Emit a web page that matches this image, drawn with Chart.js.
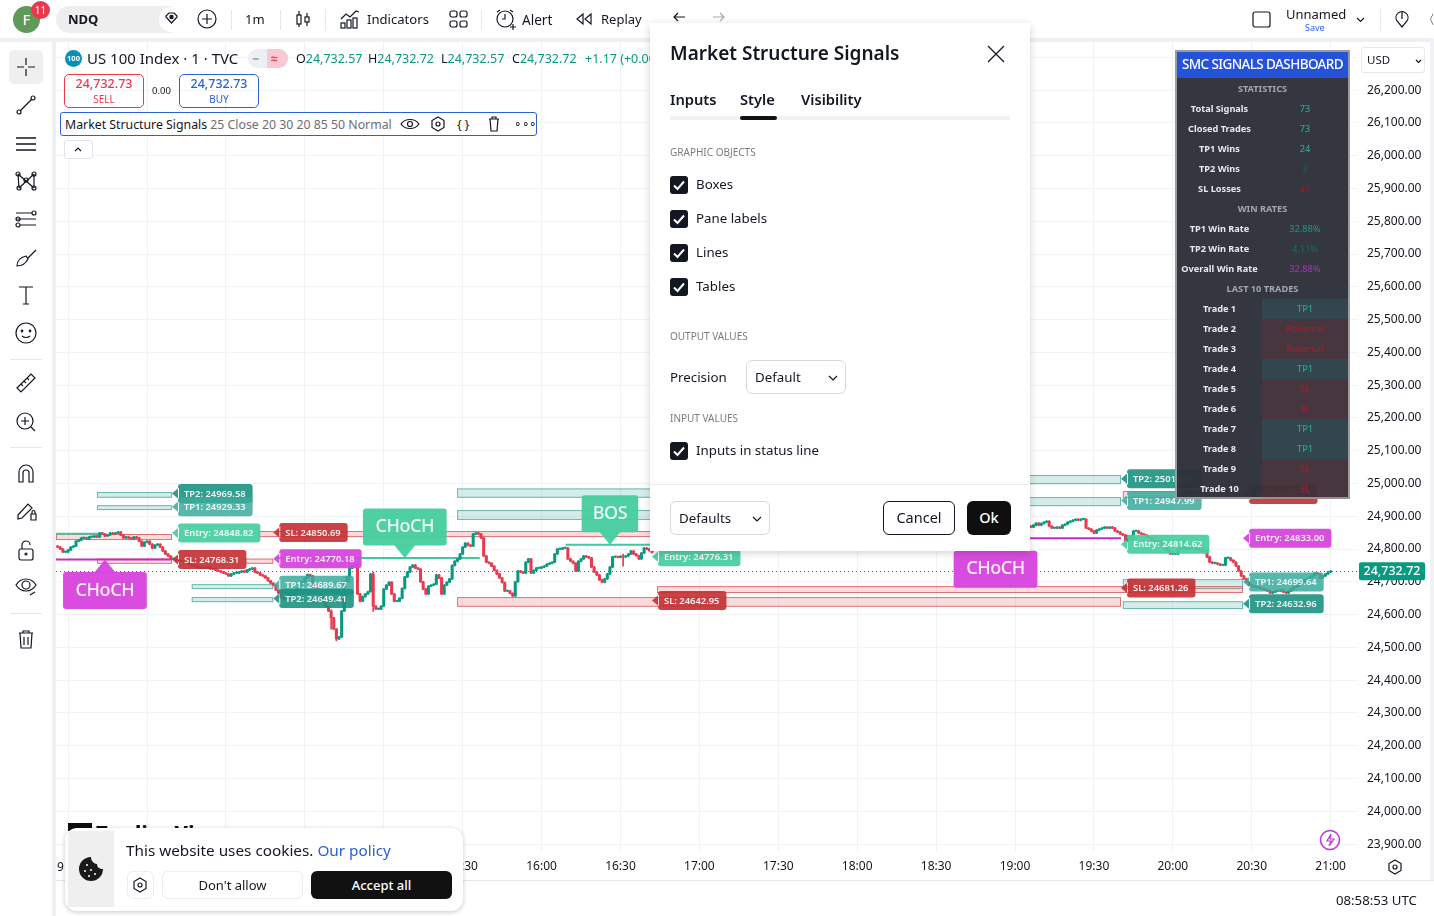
<!DOCTYPE html>
<html><head><meta charset="utf-8">
<script src="https://cdn.jsdelivr.net/npm/chart.js@4"></script>
<style>
html,body{margin:0;padding:0;background:#fff;width:1434px;height:916px;overflow:hidden;font-family:"Noto Sans",sans-serif;color:#131722}
#c{position:absolute;left:0;top:0;width:1434px;height:916px}
.a{position:absolute;white-space:nowrap}
.m{position:absolute;white-space:nowrap;transform:translateY(-50%)}
svg{position:absolute;overflow:visible;fill:none;stroke:#131722;stroke-width:1.2}
.ck{position:absolute;left:670px;width:18px;height:18px;background:#131722;border-radius:3px}
.ck svg{left:0;top:0;stroke:#fff;stroke-width:2}
.sel{position:absolute;border:1px solid #d8d8d8;border-radius:6px;background:#fff;box-sizing:border-box;height:34px}
#dash{position:absolute;left:1175px;top:50px;width:175px;height:449px;box-sizing:border-box;border:2px solid #9a9b9f;background:rgba(45,49,58,.97)}
#dash .r{position:absolute;left:0;right:0;height:20px;font-size:9.2px;font-weight:700;line-height:20px;color:#e9e9ec}
#dash .l{position:absolute;left:0;width:85px;text-align:center}
#dash .v{position:absolute;left:85px;width:86px;text-align:center;height:20px;font-weight:500}
#dash .h{text-align:center;color:#a4a6ad;width:100%;position:absolute;left:0}
</style></head><body>
<canvas id="c" width="1434" height="916"></canvas>
<div id="ui"></div>
<script>
// ---------- DATA ----------
const startMinuteA = 776;
const closesA = [
24806,24800,24791,24791,24797,24806,24809,24824,24827,24834,
24834,24831,24837,24837,24840,24837,24849,24846,24840,24843,
24849,24846,24849,24852,24843,24834,24837,24834,24831,24837,
24834,24824,24809,24821,24824,24815,24803,24812,24815,24806,
24794,24785,24779,24770,24770,24766,24763,24763,24760,24757,
24754,24748,24751,24745,24742,24745,24742,24745,24739,24739,
24736,24733,24730,24727,24724,24718,24724,24727,24727,24730,
24733,24730,24736,24739,24742,24730,24727,24721,24718,24712,
24703,24696,24690,24675,24666,24652,24648,24655,24664,24660,
24670,24680,24690,24700,24712,24722,24718,24695,24680,24668,
24650,24640,24625,24611,24590,24556,24526,24532,24611,24700,
24716,24742,24748,24754,24663,24641,24655,24663,
24670,24724,24626,24617,24617,24626,24678,24690,24699,24663,
24641,24641,24650,24680,24715,24730,24745,24751,24742,24739,
24700,24678,24663,24687,24690,24693,24721,24712,24663,24690,
24699,24709,24750,24763,24770,24785,24806,24818,24812,24809,
24846,24849,24846,24834,24779,24760,24757,24748,24735,24724,
24712,24698,24672,24672,24665,24657,24700,24733,24730,24727,
24760,24770,24727,24735,24742,24742,24745,24748,24754,24757,
24760,24785,24800,24800,24803,24803,24770,24763,24757,24733,
24763,24770,24779,24776,24773,24745,24730,24721,24706,24699,
24709,24724,24745,24776,24776,24775,24778,24776,24779,24785,
24794,24785,24780,24770,24788,24803,24800,24795,24790];
const startMinuteB = 1146;
const closesB = [
24867,24873,24879,24873,24878,24882,24885,24870,24864,24864,
24867,24864,24873,24876,24882,24885,24888,24891,24888,24891,
24891,24864,24861,24855,24849,24858,24861,24864,24867,24864,
24867,24864,24855,24852,24846,24843,24824,24840,24831,24855,
24855,24849,24846,24843,24837,24834,24827,24821,24824,24821,
24815,24803,24794,24785,24785,24785,24800,24806,24803,24800,
24803,24806,24803,24800,24797,24794,24794,24776,24760,24757,
24757,24754,24751,24751,24773,24773,24766,24760,24748,24733,
24718,24709,24699,24690,24687,24684,24684,24681,24678,24675,
24672,24666,24669,24672,24672,24675,24669,24666,24672,24678,
24684,24687,24693,24699,24706,24709,24715,24721,24727,24724,
24712,24718,24724,24730,24732.72];
// candles with a long wick: minute, low, high
const wickMinutes = [882,991,887,880,896];
const wickLows    = [24520,24748,24700,24556,24610];
const wickHighs   = [24540,24785,24755,24615,24730];
const lastPrice = 24732.72;
const yTickStep = 100, xTickStep = 30;

// zones [startMinute, endMinute, lowPrice, highPrice]
const greenZones = [[791,819.5,24956.5,24974],[791,819.5,24919,24934],[827,858,24678,24693],[827,858,24638,24653.6],
 [927.9,1002,24956.5,24985],[927.9,1002,24889,24919],[1002,1180.3,24998,25026],[1002,1180.3,24931,24958.6],
 [1181,1226.7,24678,24708.5],[1181,1226.7,24617,24641]];
const redZones = [[775.4,819.5,24827.5,24846],[791,819.5,24755,24771],[852.2,1002,24836.6,24855],[847.3,858,24755,24771],
 [927.9,1180.3,24624,24653.6],[1003.9,1226.7,24666,24687],[1181,1226.7,24955.6,24977]];
// level lines [startMinute, endMinute, price]
const tealLines = [[775.4,793,24847],[859.8,936.5,24773],[969.2,1002,24813.5]];
const pinkLines = [[775.4,819.5,24768.3],[1002,1180.3,24833]];
// signal tags
const tagTexts = ["TP2: 24969.58","TP1: 24929.33","Entry: 24848.82","SL: 24768.31","SL: 24850.69","Entry: 24770.18","TP1: 24689.67","TP2: 24649.41","SL: 24642.95","Entry: 24776.31","TP2: 25014.67","TP1: 24947.99","Entry: 24814.62","SL: 24681.26","SL: 24966.17","Entry: 24833.00","TP1: 24699.64","TP2: 24632.96"];
const tagPrices = [24969.58,24929.33,24848.82,24768.31,24850.69,24770.18,24689.67,24649.41,24642.95,24776.31,25014.67,24947.99,24814.62,24681.26,24966.17,24833.00,24699.64,24632.96];
const tagMinutes = [819.5,819.5,819.5,819.5,858,858,858,858,1002,1002,1180.3,1180.3,1180.3,1180.3,1226.7,1226.7,1226.7,1226.7];
const tagKinds = ["tp2","tp1","entryG","sl","sl","entryP","tp1","tp2","sl","entryG","tp2","tp1","entryG","sl","sl","entryP","tp1","tp2"];
// structure callouts
const calloutTexts = ["CHoCH","CHoCH","BOS","CHoCH"];
const calloutMinutes = [794,908,986,1132.6];
const calloutPrices = [24768.3,24773,24813.5,24833];
const calloutColors = ["pink","green","green","pink"];
const calloutDirs = [1,-1,-1,1];
// dashboard
const statNames = ["Total Signals","Closed Trades","TP1 Wins","TP2 Wins","SL Losses"];
const statVals = ["73","73","24","3","49"];
const rateNames = ["TP1 Win Rate","TP2 Win Rate","Overall Win Rate"];
const rateVals = ["32.88%","4.11%","32.88%"];
const tradeNames = ["Trade 1","Trade 2","Trade 3","Trade 4","Trade 5","Trade 6","Trade 7","Trade 8","Trade 9","Trade 10"];
const tradeVals = ["TP1","Reversal","Reversal","TP1","SL","SL","TP1","TP1","SL","SL"];
const priceAxisTitle = "USD";

// ---------- CHART ----------
const UP="#089981", DOWN="#e8394d";
const candles=[];
function pushCandles(start,list,firstOpen){
  let o=firstOpen;
  list.forEach((c,i)=>{
    const m=start+i, k=wickMinutes.indexOf(m);
    let lo=Math.min(o,c)-2, hi=Math.max(o,c)+2;
    if(k>=0){lo=Math.min(lo,wickLows[k]);hi=Math.max(hi,wickHighs[k]);}
    candles.push({m,o,c,lo,hi}); o=c;
  });
}
pushCandles(startMinuteA,closesA,24809);
pushCandles(startMinuteB,closesB,24870);
const colorOf=d=>d.c>=d.o?UP:DOWN;

const hhmm=v=>v===780?"":String(Math.floor(v/60)).padStart(2,"0")+":"+String(v%60).padStart(2,"0");
const fmt=v=>v.toLocaleString("en-US",{minimumFractionDigits:2,maximumFractionDigits:2});
const tagStyle={tp2:"rgba(28,146,128,.9)",tp1:"rgba(58,170,156,.85)",entryG:"rgba(72,206,160,.93)",sl:"rgba(196,50,54,.92)",entryP:"rgba(214,70,222,.95)"};
const calloutStyle={pink:"rgba(214,70,222,.96)",green:"rgba(72,206,160,.97)"};

const overlay={
 id:"overlay",
 beforeDatasetsDraw(ch){
  const {ctx,scales:{x,y}}=ch;
  ctx.save();
  const area=ch.chartArea;
  ctx.beginPath();ctx.rect(area.left,area.top,area.width,area.height);ctx.clip();
  const zone=(z,f,s)=>{const a=x.getPixelForValue(z[0]),b=x.getPixelForValue(z[1]),t=y.getPixelForValue(z[3]),u=y.getPixelForValue(z[2]);
    ctx.fillStyle=f;ctx.fillRect(a,t,b-a,u-t);ctx.strokeStyle=s;ctx.lineWidth=1;ctx.strokeRect(a+.5,t+.5,b-a-1,u-t-1);};
  greenZones.forEach(z=>zone(z,"rgba(38,166,154,.2)","rgba(70,165,150,.75)"));
  redZones.forEach(z=>zone(z,"rgba(236,90,90,.22)","rgba(214,90,90,.8)"));
  const line=(l,c)=>{ctx.strokeStyle=c;ctx.lineWidth=2;ctx.beginPath();const py=y.getPixelForValue(l[2]);ctx.moveTo(x.getPixelForValue(l[0]),py);ctx.lineTo(x.getPixelForValue(l[1]),py);ctx.stroke();};
  tealLines.forEach(l=>line(l,"#3fc9a0"));
  pinkLines.forEach(l=>line(l,"#c42bc9"));
  const py=Math.round(y.getPixelForValue(lastPrice))+.5;
  ctx.strokeStyle="#089981";ctx.lineWidth=1;ctx.setLineDash([1,3]);ctx.beginPath();ctx.moveTo(area.left,py);ctx.lineTo(area.right,py);ctx.stroke();
  ctx.restore();
 },
 afterDatasetsDraw(ch){
  const {ctx,scales:{x,y}}=ch;
  ctx.save();
  ctx.textBaseline="middle";
  tagTexts.forEach((t,i)=>{
    const tx=x.getPixelForValue(tagMinutes[i]),ty=y.getPixelForValue(tagPrices[i]);
    ctx.font='600 9.4px "Noto Sans"';
    const w=ctx.measureText(t).width+13,h=19,bx=tx+6;
    ctx.fillStyle=tagStyle[tagKinds[i]];
    ctx.beginPath();ctx.roundRect(bx,ty-h/2,w,h,3);
    ctx.moveTo(bx+1,ty-6);ctx.lineTo(tx,ty);ctx.lineTo(bx+1,ty+6);ctx.closePath();ctx.fill();
    ctx.fillStyle="rgba(255,255,255,.92)";ctx.textAlign="left";ctx.fillText(t,bx+6,ty+.5);
  });
  calloutTexts.forEach((t,i)=>{
    const tx=x.getPixelForValue(calloutMinutes[i]),ty=y.getPixelForValue(calloutPrices[i]),dir=calloutDirs[i];
    ctx.font='500 18px "Noto Sans"';
    ctx.letterSpacing="-0.4px";
    const w=ctx.measureText(t).width+(t==="BOS"?22:25),h=37,tipH=12.5;
    const top=dir>0?ty+tipH:ty-tipH-h;
    ctx.fillStyle=calloutStyle[calloutColors[i]];
    ctx.beginPath();ctx.roundRect(tx-w/2,top,w,h,3);ctx.fill();
    ctx.beginPath();ctx.moveTo(tx,ty);ctx.lineTo(tx-11,ty+dir*tipH+dir);ctx.lineTo(tx+11,ty+dir*tipH+dir);ctx.closePath();ctx.fill();
    ctx.fillStyle="rgba(255,255,255,.9)";ctx.textAlign="center";ctx.fillText(t,tx,top+h/2);
    ctx.letterSpacing="0px";
  });
  const ly=y.getPixelForValue(lastPrice);
  ctx.fillStyle="#089981";ctx.beginPath();ctx.roundRect(x.right+1,ly-9,66,18,2);ctx.fill();
  ctx.fillStyle="#fff";ctx.font='500 12.5px "Noto Sans"';ctx.textAlign="center";ctx.fillText(fmt(lastPrice),x.right+34,ly+.5);
  ctx.restore();
 }
};

new Chart(document.getElementById("c"),{
 type:"bar",
 data:{datasets:[
  {label:"wick",data:candles.map(d=>({x:d.m,y:[d.lo,d.hi]})),backgroundColor:candles.map(colorOf),barThickness:1,grouped:false,order:2},
  {label:"body",data:candles.map(d=>({x:d.m,y:[d.o,d.c]})),backgroundColor:candles.map(colorOf),barThickness:2.4,grouped:false,minBarLength:1,order:1}
 ]},
 plugins:[overlay],
 options:{
  responsive:false,animation:false,devicePixelRatio:1,
  layout:{padding:{left:56,top:42,right:0,bottom:36}},
  plugins:{legend:{display:false},tooltip:{enabled:false}},
  scales:{
   x:{type:"linear",offset:false,min:775.4,max:1270.4,
      grid:{color:"#f2f3f5",drawTicks:false,offset:false},border:{display:false},
      afterFit(s){s.height=28;},
      ticks:{stepSize:xTickStep,includeBounds:false,autoSkip:false,maxRotation:0,padding:7,color:"#131722",font:{family:"Noto Sans",size:12},callback:v=>hhmm(v)}},
   y:{position:"right",min:23875.9,max:26346.9,
      grid:{color:"#f2f3f5",drawTicks:false},border:{display:false},
      afterFit(s){s.width=76;},
      ticks:{stepSize:yTickStep,includeBounds:false,padding:9,color:"#131722",font:{family:"Noto Sans",size:12},callback:v=>fmt(v)}}
  }
 }
});

// ---------- PAGE CHROME ----------
const T=(txt,x,y,st="")=>`<div class="m" style="left:${x}px;top:${y}px;${st}">${txt}</div>`;
const B=(x,y,w,h,st)=>`<div class="a" style="left:${x}px;top:${y}px;width:${w}px;height:${h}px;${st}"></div>`;
const S=(x,y,inner,st="")=>`<svg style="left:${x}px;top:${y}px;${st}" width="24" height="24" viewBox="0 0 24 24">${inner}</svg>`;
const check='<polyline points="4,9.5 7.5,13 14,5.5"/>';
let h="";
h+=B(0,38,1434,4,"background:#eff0f2")+B(52,38,4,878,"background:#eff0f2")+B(1430,38,4,842,"background:#f0f2f5");
h+=B(56,880,1378,1,"background:#e4e6ea");
h+=`<div class="a" style="left:13px;top:6px;width:27px;height:27px;border-radius:50%;background:#5f9a5a;color:#fff;font-size:15px;font-weight:500;text-align:center;line-height:27px">F</div>`;
h+=`<div class="a" style="left:31px;top:1px;width:19px;height:18px;border-radius:50%;background:#e8394d;color:#fff;font-size:10px;text-align:center;line-height:18px">11</div>`;
h+=B(56,6,126,27,"background:#eeeeee;border-radius:14px");
h+=T("NDQ",68,19,"font-weight:700;font-size:13px");
h+=`<div class="a" style="left:159px;top:7px;width:25px;height:25px;border-radius:50%;background:#fff"></div>`;
h+=S(159,7,'<path d="M7 9 l3-3 h5 l3 3 v1 l-5.5 6 -5.5-6z"/><circle cx="12.5" cy="10" r="1.6" fill="#131722"/>');
h+=S(195,7,'<circle cx="12" cy="12" r="9"/><path d="M12 7v10M7 12h10"/>');
h+=B(231,10,1,20,"background:#e6e6e6");
h+=T("1m",245,19,"font-size:13px");
h+=B(280,10,1,20,"background:#e6e6e6");
h+=S(291,7,'<path d="M8 4v16M16 6v13"/><rect x="6" y="8" width="4" height="9" fill="#fff"/><rect x="14" y="10" width="4" height="5" fill="#fff"/>');
h+=B(325,10,1,20,"background:#e6e6e6");
h+=S(338,7,'<path d="M3 12l5-5 4 3 6-6 3 1"/><rect x="3" y="16" width="4" height="5"/><rect x="9" y="13" width="4" height="8"/><rect x="15" y="11" width="4" height="10"/>');
h+=T("Indicators",367,19,"font-size:13.1px");
h+=S(446,7,'<rect x="4" y="4" width="7" height="6" rx="2"/><rect x="14" y="4" width="7" height="6" rx="2"/><rect x="4" y="14" width="7" height="6" rx="2"/><rect x="14" y="14" width="7" height="6" rx="2"/>');
h+=B(481,10,1,20,"background:#e6e6e6");
h+=S(493,7,'<circle cx="12" cy="12" r="8"/><path d="M12 7v5h-3M4 5l3-2M20 5l-3-2M17 20h6M20 17v6"/>');
h+=T("Alert",522,19,"font-size:13.6px");
h+=S(572,7,'<path d="M11 7l-6 5 6 5zM19 7l-6 5 6 5z"/>');
h+=T("Replay",601,19,"font-size:13px");
h+=S(668,5,'<path d="M17 12H6M10 8l-4 4 4 4"/>');
h+=S(707,5,'<path d="M6 12h11M13 8l4 4-4 4"/>','stroke:#aaa');
h+=`<svg style="left:1252px;top:10px" width="20" height="20"><rect x="1" y="2" width="17" height="15" rx="2"/></svg>`;
h+=T("Unnamed",1286,14,"font-size:13px");
h+=T("Save",1305,27,"font-size:9px;color:#2962ff");
h+=S(1352,7,'<path d="M5 10l3.5 3.5L12 10" transform="translate(0,1)"/>');
h+=B(1380,10,1,20,"background:#e6e6e6");
h+=S(1390,7,'<path d="M7 14a6 6 0 1 1 10 0l-5 6-5-6zM12 5v7"/>');
h+=T("〈",1422,19,"font-size:13px");
h+=B(9,50,34,34,"background:#efefef;border-radius:5px");
h+=S(14,55,'<path d="M12 3v7M12 14v7M3 12h7M14 12h7"/>');
h+=S(14,93,'<path d="M6 18L18 6"/><circle cx="5" cy="19" r="2"/><circle cx="19" cy="5" r="2"/>');
h+=S(14,132,'<path d="M2 6h20M2 12h20M2 18h20" stroke-width="1.5"/>');
h+=S(14,168,'<circle cx="4" cy="6" r="2"/><circle cx="20" cy="6" r="2"/><circle cx="12" cy="12" r="2"/><circle cx="5" cy="20" r="2"/><circle cx="20" cy="20" r="2"/><path d="M4 6l1 14M20 6v14M4 6l16 14M20 6L5 20"/>');
h+=S(14,207,'<path d="M2 6h16M2 12h20M6 18h16"/><circle cx="20" cy="6" r="2"/><circle cx="4" cy="12" r="2"/><circle cx="4" cy="18" r="2"/>');
h+=S(14,246,'<path d="M3 20c0-6 5-9 9-10l2 3c-2 4-5 7-11 7zM14 12l8-8"/>');
h+=S(14,283,'<path d="M5 4h14M12 4v17M9 21h6"/>');
h+=S(14,321,'<circle cx="12" cy="12" r="10"/><circle cx="8" cy="10" r=".8"/><circle cx="16" cy="10" r=".8"/><path d="M8 15c2 2 6 2 8 0"/>');
h+=B(10,359,32,1,"background:#e6e6e6");
h+=S(14,371,'<path d="M3 17L17 3l4 4L7 21zM7 13l2 2M10 10l2 2M13 7l2 2"/>');
h+=S(14,410,'<circle cx="11" cy="11" r="8"/><path d="M17 17l4 4M11 7v8M7 11h8"/>');
h+=B(10,447,32,1,"background:#e6e6e6");
h+=S(14,461,'<path d="M5 21V11a7 7 0 0 1 14 0v10h-4V12a3 3 0 0 0-6 0v9z"/>');
h+=S(14,499,'<path d="M4 16L14 5l4 4L8 19l-4 1zM17 15h5v6h-5zM18 15v-2a1.5 1.5 0 0 1 3 0v2"/>');
h+=S(14,538,'<rect x="5" y="11" width="14" height="11" rx="2"/><path d="M8 11V7a4 4 0 0 1 8 0"/><circle cx="12" cy="16" r="1"/>');
h+=S(14,574,'<path d="M2 11c5-8 15-8 20 0-5 8-15 8-20 0z"/><circle cx="12" cy="11" r="4"/><path d="M16 21l5-3"/>');
h+=B(10,613,32,1,"background:#e6e6e6");
h+=S(14,627,'<path d="M5 6h14M9 6V4h6v2M6 6l1 15h10l1-15M10 10v8M14 10v8"/>');
h+=`<div class="a" style="left:65px;top:50px;width:17px;height:17px;border-radius:50%;background:#0b8fb8;color:#fff;font-size:7.5px;text-align:center;line-height:17px;font-weight:700">100</div>`;
h+=T("US 100 Index · 1 · TVC",87,58,"font-size:15px");
h+=B(248,49,40,19,"background:#eceff3;border-radius:10px")+B(267,49,21,19,"background:#f6c9d5;border-radius:0 10px 10px 0");
h+=T("━",253,58,"font-size:9px;color:#9a9a9a")+T("≈",271,58,"font-size:12px;color:#e8394d;font-weight:700");
const ohlc=[["O","24,732.57",296],["H","24,732.72",368],["L","24,732.57",441],["C","24,732.72",512]];
ohlc.forEach(a=>{h+=`<div class="m" style="left:${a[2]}px;top:58px;font-size:12.5px">${a[0]}<span style="color:#089981">${a[1]}</span></div>`;});
h+=T("+1.17 (+0.00%)",585,58,"font-size:12.5px;color:#089981");
h+=`<div class="a" style="left:64px;top:74px;width:80px;height:34px;box-sizing:border-box;border:1px solid #e8394d;border-radius:5px;text-align:center;color:#e8394d;font-size:12.5px;line-height:15px;padding-top:1px;font-weight:500">24,732.73<br><span style="font-size:10px;font-weight:400">SELL</span></div>`;
h+=T("0.00",152,90,"font-size:9.5px");
h+=`<div class="a" style="left:179px;top:74px;width:80px;height:34px;box-sizing:border-box;border:1px solid #2962d0;border-radius:5px;text-align:center;color:#2962d0;font-size:12.5px;line-height:15px;padding-top:1px;font-weight:500">24,732.73<br><span style="font-size:10px;font-weight:400">BUY</span></div>`;
h+=B(60,112,477,24,"box-sizing:border-box;border:1px solid #2962d0;border-radius:3px;background:#fff");
h+=`<div class="m" style="left:65px;top:124px;font-size:12.3px;width:330px;overflow:hidden">Market Structure Signals <span style="color:#6a6d78">25 Close 20 30 20 85 50 Normal</span></div>`;
h+=S(398,112,'<path d="M3 12c4-6 14-6 18 0-4 6-14 6-18 0z"/><circle cx="12" cy="12" r="2.5"/>');
h+=S(426,112,'<path d="M12 5l6 3.5v7L12 19l-6-3.5v-7z"/><circle cx="12" cy="12" r="2"/>');
h+=T("{ }",457,124,"font-size:12px");
h+=S(482,112,'<path d="M7 7h10M10 7V5h4v2M8 7l1 12h6l1-12"/>');
h+=T("∘∘∘",514,123,"font-size:12px;letter-spacing:-.5px");
h+=B(64,140,29,19,"box-sizing:border-box;border:1px solid #e0e3eb;border-radius:3px;background:#fff");
h+=S(66,137,'<path d="M9 14l3-3 3 3"/>');
h+=B(1361,47,64,26,"box-sizing:border-box;border:1px solid #e8e8e8;border-radius:3px;background:#fff");
h+=T(priceAxisTitle,1367,59,"font-size:11.5px");
h+=S(1407,49,'<path d="M9 11l2.5 2.5L14 11"/>');
h+=S(1318,828,'<circle cx="12" cy="12" r="9.5" style="stroke:#b43fd0;stroke-width:1.6"/><path d="M13 6l-4 7h4l-2 5 5-7h-4z" style="stroke:#b43fd0"/>');
h+=S(1383,855,'<path d="M12 5l6 3.5v7L12 19l-6-3.5v-7z"/><circle cx="12" cy="12" r="2"/>');
h+=T("08:58:53 UTC",1336,900,"font-size:13.2px");
h+=T("9",57,866,"font-size:12px");
h+=T("TradingView",96,832,"font-size:20px;font-weight:800;color:#0d0d0d;letter-spacing:.3px");
h+=B(68,823,24,20,"background:#0d0d0d");
h+=B(65,828,398,83,"box-sizing:border-box;background:#fff;border-radius:12px;box-shadow:0 1px 5px rgba(0,0,0,.22)");
h+=B(68,831,46,76,"background:#efefef");
h+=`<svg style="left:79px;top:856px" width="26" height="26" viewBox="0 0 26 26"><path d="M12 1a12 12 0 1 0 12 12c-4 0-6-2-6-5-3 0-6-3-6-7z" style="fill:#1a1a1a;stroke:none"/><g style="fill:#fff;stroke:none"><circle cx="8" cy="9" r="1"/><circle cx="6" cy="15" r="1"/><circle cx="12" cy="14" r="1"/><circle cx="16" cy="18" r="1"/><circle cx="10" cy="20" r="1"/></g></svg>`;
h+=T('This website uses cookies. <span style="color:#2962d0">Our policy</span>',126,850,"font-size:15.3px");
h+=B(127,871,27,28,"box-sizing:border-box;border:1px solid #ececec;border-radius:6px");
h+=S(128,873,'<path d="M12 5l6 3.5v7L12 19l-6-3.5v-7z"/><circle cx="12" cy="12" r="2"/>');
h+=`<div class="a" style="left:162px;top:871px;width:141px;height:28px;box-sizing:border-box;border:1px solid #ececec;border-radius:6px;text-align:center;line-height:26px;font-size:13px">Don't allow</div>`;
h+=`<div class="a" style="left:311px;top:871px;width:141px;height:28px;background:#111;color:#fff;border-radius:6px;text-align:center;line-height:28px;font-size:13px;font-weight:500">Accept all</div>`;
let d=`<div style="position:absolute;left:0;top:0;right:0;height:26px;background:#2453d9;color:#fff;font-size:13.5px;font-weight:500;text-align:center;line-height:25px;letter-spacing:-.6px">SMC SIGNALS DASHBOARD</div>`;
const rowTop=i=>26.5+20*i;
const head=(i,t)=>`<div class="r" style="top:${rowTop(i)}px"><div class="h">${t}</div></div>`;
const row=(i,n,v,col,bg)=>`<div class="r" style="top:${rowTop(i)}px"><div class="l">${n}</div><div class="v" style="color:${col};${bg?`background:${bg};`:""}">${v}</div></div>`;
d+=head(0,"STATISTICS");
const statCols=["#2aa58e","#2aa58e","#2aa58e","#155f55","#8c1f28"];
statNames.forEach((n,i)=>d+=row(i+1,n,statVals[i],statCols[i]));
d+=head(6,"WIN RATES");
const rateCols=["#1f8f7c","#12695a","#a52fb8"];
rateNames.forEach((n,i)=>d+=row(i+7,n,rateVals[i],rateCols[i]));
d+=head(10,"LAST 10 TRADES");
tradeNames.forEach((n,i)=>{const tp=tradeVals[i]==="TP1";d+=row(i+11,n,tradeVals[i],tp?"#2aa58e":"#a31f2a",tp?"rgba(38,166,154,.14)":"rgba(200,50,50,.14)");});
h+=`<div id="dash">${d}</div>`;
h+=B(650,23,380,528,"background:#fff;box-shadow:0 2px 8px rgba(0,0,0,.18)");
h+=T("Market Structure Signals",670,54,"font-size:19px;font-weight:600;transform:translateY(-55%)");
h+=`<svg style="left:987px;top:45px" width="18" height="18"><path d="M1 1l16 16M17 1L1 17" stroke-width="1.3"/></svg>`;
h+=T("Inputs",670,99,"font-size:14.7px;font-weight:600")+T("Style",740,99,"font-size:14.7px;font-weight:600")+T("Visibility",801,99,"font-size:14.7px;font-weight:600");
h+=B(670,116,340,4,"background:#f1f1f1")+B(740,116,37,4,"background:#111;border-radius:2px");
h+=T("GRAPHIC OBJECTS",670,152,"font-size:10px;color:#7b7b7b");
[["Boxes",185],["Pane labels",219],["Lines",253],["Tables",287],["Inputs in status line",451]].forEach(a=>{
  h+=`<div class="ck" style="top:${a[1]-9}px"><svg width="18" height="18">${check}</svg></div>`;
  h+=T(a[0],696,a[1]-1,"font-size:13.3px");
});
h+=T("OUTPUT VALUES",670,336,"font-size:10px;color:#7b7b7b");
h+=T("Precision",670,377,"font-size:13.3px");
h+=`<div class="sel" style="left:746px;top:360px;width:100px"></div>`+T("Default",755,377,"font-size:13.3px");
h+=S(821,366,'<path d="M8 10l4 4 4-4"/>');
h+=T("INPUT VALUES",670,418,"font-size:10px;color:#7b7b7b");
h+=B(650,484,380,1,"background:#ececec");
h+=`<div class="sel" style="left:670px;top:501px;width:100px"></div>`+T("Defaults",679,518,"font-size:13.3px");
h+=S(745,507,'<path d="M8 10l4 4 4-4"/>');
h+=`<div class="a" style="left:883px;top:501px;width:72px;height:34px;box-sizing:border-box;border:1px solid #131722;border-radius:6px;text-align:center;line-height:31px;font-size:14.5px">Cancel</div>`;
h+=`<div class="a" style="left:967px;top:501px;width:44px;height:34px;background:#0f0f0f;color:#fff;border-radius:6px;text-align:center;line-height:32px;font-size:14.5px;font-weight:500">Ok</div>`;
document.getElementById("ui").innerHTML=h;
</script>
</body></html>
